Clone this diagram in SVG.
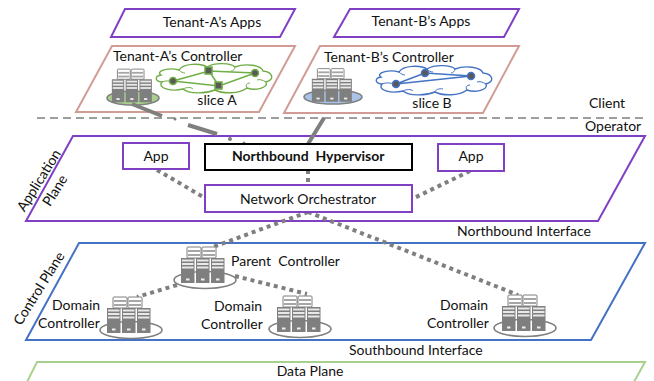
<svg xmlns="http://www.w3.org/2000/svg" width="654" height="381" viewBox="0 0 654 381">
<style>
text{font-family:Lato,"Open Sans","Liberation Sans",sans-serif;font-size:14px;fill:#111}
.m{text-anchor:middle}
.pur{fill:#fff;stroke:#8040c4;stroke-width:2}
.pink{fill:#fff;stroke:#d19c96;stroke-width:2}
.blue{fill:#fff;stroke:#4472c4;stroke-width:2}
.grn{fill:#fff;stroke:#a9d18e;stroke-width:2}
.dot{stroke:#7f7f7f;stroke-width:4;stroke-dasharray:4 4;fill:none}
.sol{stroke:#7f7f7f;stroke-width:4;fill:none}
.el{stroke:#7f7f7f;stroke-width:1.6}
</style>
<defs>
<g id="u"><rect x="0" y="0" width="13.5" height="25" fill="#7f7f7f"/><rect x="1" y="1.5" width="11.5" height="2" fill="#e8e8e8"/><rect x="1" y="5" width="11.5" height="2" fill="#e8e8e8"/><rect x="1" y="8.5" width="11.5" height="2" fill="#e8e8e8"/><rect x="5" y="20.5" width="3.5" height="2" fill="#eee"/></g>
<g id="b"><rect x="0" y="0" width="14" height="11" rx="1" fill="#fff" stroke="#7f7f7f" stroke-width="1"/><rect x="1" y="3" width="12" height="2" fill="#a6a6a6"/><rect x="1" y="7" width="12" height="2" fill="#a6a6a6"/></g>
<g id="st"><use href="#b" x="-17" y="-33"/><use href="#b" x="-2" y="-33"/><use href="#u" x="-23" y="-22"/><use href="#u" x="-8" y="-22"/><use href="#u" x="7" y="-22"/></g>
<g id="cl"><path d="M6,12C0,8 14,4 24,7C28,0 46,0 52,4C60,-1 76,0 80,4C90,0 106,2 108,8C118,9 120,17 111,19C114,25 100,28 92,25C84,31 68,31 60,27C50,31 34,31 28,26C16,29 2,25 7,19C-1,18 0,13 6,12Z" fill="#fff" stroke-width="1.4"/><path d="M7,19C12,17 18,18 20,20M28,26C32,24 36,24 38,26M60,27C60,25 64,23 68,24M92,25C90,22 92,20 95,20M111,19C108,17 104,16 102,17M24,7C26,9 28,10 30,10M52,4C54,6 56,7 58,7M80,4C80,6 78,8 76,8" fill="none" stroke-width="1"/></g>
</defs>
<g id="plane-data"><path class="grn" d="M27,382L37,362H645L634,382" fill="none"/><text class="m" x="310" y="376">Data Plane</text></g>
<g id="plane-control"><polygon class="blue" points="79,243 645,243 591,340 26,340"/><text class="m" transform="translate(43,291) rotate(-58)">Control Plane</text><text x="349" y="355">Southbound Interface</text></g>
<g id="plane-application"><polygon class="pur" points="73,136 645,136 598,221 26,221"/><text class="m" transform="translate(43,183) rotate(-58)">Application</text><text class="m" transform="translate(59,193) rotate(-58)">Plane</text><text x="457" y="236">Northbound Interface</text></g>
<g id="apps-a"><polygon class="pur" points="125,9 295,9 280,37 111,37"/><text class="m" x="212" y="27">Tenant-A’s Apps</text></g>
<g id="apps-b"><polygon class="pur" points="350,9 519,9 504,37 334,37"/><text class="m" x="421" y="26">Tenant-B’s Apps</text></g>
<g id="controller-a"><polygon class="pink" points="112,46 295,46 259,112 76,112"/><text x="113" y="61">Tenant-A’s Controller</text>
<ellipse class="el" cx="133" cy="98" rx="26" ry="7" fill="#a9d18e"/><use href="#st" transform="translate(133,99.5) scale(.92)"/>
<use href="#cl" transform="translate(155,63)" stroke="#70ad47"/>
<g stroke="#70ad47" stroke-width="1.5"><path d="M173,81L209,71L255,73L219,86L173,81M209,71L219,86" fill="none"/><circle cx="173" cy="81" r="3.5" fill="#595959"/><circle cx="255" cy="73" r="3.5" fill="#595959"/><rect x="205" y="67" width="7" height="7" fill="#595959"/><rect x="215" y="82" width="7" height="7" fill="#595959"/></g>
<text class="m" x="217" y="105">slice A</text></g>
<g id="controller-b"><polygon class="pink" points="320,46 519,46 483,113 284,113"/><text x="324" y="62">Tenant-B’s Controller</text>
<ellipse class="el" cx="333" cy="97" rx="29" ry="7" fill="#a9c4e8"/><use href="#st" transform="translate(333,99) scale(.92)"/>
<use href="#cl" transform="translate(375,65)" stroke="#4472c4"/>
<g stroke="#4472c4" stroke-width="1.5"><path d="M396,84L425,73L471,76L396,84" fill="none"/><circle cx="396" cy="84" r="3.5" fill="#595959"/><circle cx="425" cy="73" r="3.5" fill="#595959"/><circle cx="471" cy="76" r="3.5" fill="#595959"/></g>
<text class="m" x="432" y="108">slice B</text></g>
<g id="connectors">
<path d="M37,118H648" stroke="#7f7f7f" stroke-width="1.5" stroke-dasharray="8 5" fill="none"/>
<path class="sol" d="M132,104L162,116M188,125L217,134M324,118L308,144"/>
<circle cx="175" cy="119" r="1.5" fill="#7f7f7f"/>
<circle cx="230" cy="139" r="2" fill="#7f7f7f"/><circle cx="244" cy="143" r="1.5" fill="#7f7f7f"/>
<path class="dot" d="M157,170L205,198M470,171L412,199M308,170V185M308,212L213,247M308,212L518,295M177,285L137,297M235,276L307,294"/>
</g>
<g id="app-left"><rect class="pur" x="123" y="143" width="66" height="26"/><text class="m" x="156" y="161">App</text></g>
<g id="northbound-hypervisor"><rect x="205" y="144" width="207" height="26" fill="#fff" stroke="#000" stroke-width="2"/><text x="232" y="161" style="font-weight:700" xml:space="preserve">Northbound  Hypervisor</text></g>
<g id="app-right"><rect class="pur" x="438" y="144" width="66" height="27"/><text class="m" x="471" y="161">App</text></g>
<g id="network-orchestrator"><rect class="pur" x="205" y="185" width="207" height="27"/><text class="m" x="308" y="204">Network Orchestrator</text></g>
<g id="parent-controller"><ellipse class="el" cx="205" cy="280" rx="31" ry="8.5" fill="#fff"/><use href="#st" transform="translate(204,280)"/><text x="231" y="266" xml:space="preserve">Parent  Controller</text></g>
<g id="domain-1"><ellipse class="el" cx="131" cy="330" rx="31" ry="8.5" fill="#fff"/><use href="#st" transform="translate(130,330)"/><text class="m" x="76" y="310">Domain</text><text x="38" y="328">Controller</text></g>
<g id="domain-2"><ellipse class="el" cx="300" cy="329" rx="31" ry="8.5" fill="#fff"/><use href="#st" transform="translate(300,329)"/><text class="m" x="238" y="311">Domain</text><text x="201" y="329">Controller</text></g>
<g id="domain-3"><ellipse class="el" cx="525" cy="328" rx="31" ry="8.5" fill="#fff"/><use href="#st" transform="translate(525,328)"/><text class="m" x="464" y="310">Domain</text><text x="427" y="328">Controller</text></g>
<g id="labels"><text x="589" y="108">Client</text><text x="585" y="131">Operator</text></g>
</svg>
